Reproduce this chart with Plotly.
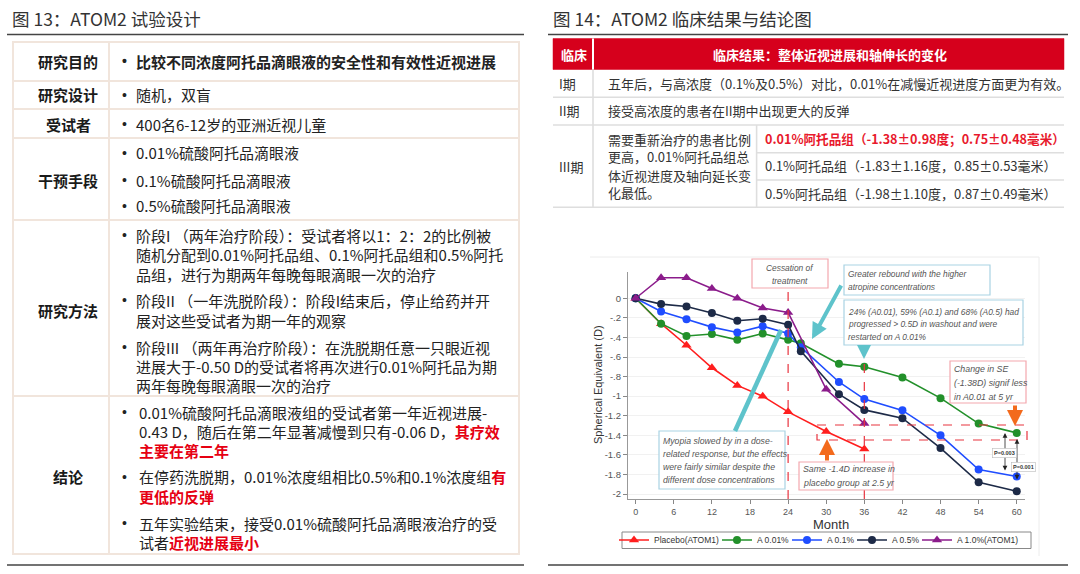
import plotly.graph_objects as go

W, H = 1080, 574
CJK = "Noto Sans CJK SC"
SANS = "Liberation Sans"

# ---- chart data: spherical equivalent (D) by month ----
months_atom1 = [0, 4, 8, 12, 16, 20, 24, 30, 36]
placebo_atom1 = [0, -0.26, -0.48, -0.71, -0.89, -1.00, -1.16, -1.36, -1.54]
a10_atom1 = [0, 0.21, 0.21, 0.10, 0.0, -0.10, -0.145, -0.93, -1.28]

months_atom2 = [0, 4, 8, 12, 16, 20, 24, 26, 32, 36, 42, 48, 54, 60]
a001 = [0, -0.26, -0.385, -0.365, -0.425, -0.36, -0.425, -0.46, -0.67, -0.70, -0.81, -1.02, -1.28, -1.375]
a01 = [0, -0.135, -0.215, -0.295, -0.35, -0.285, -0.36, -0.50, -0.855, -1.03, -1.145, -1.40, -1.75, -1.82]
a05 = [0, -0.06, -0.085, -0.15, -0.23, -0.21, -0.27, -0.54, -0.98, -1.14, -1.225, -1.53, -1.88, -1.97]

series_names = ["Placebo(ATOM1)", "A 0.01%", "A 0.1%", "A 0.5%", "A 1.0%(ATOM1)"]
x_ticks = [0, 6, 12, 18, 24, 30, 36, 42, 48, 54, 60]
y_ticks = [0, -0.2, -0.4, -0.6, -0.8, -1, -1.2, -1.4, -1.6, -1.8, -2]
y_tick_text = ["0", "-.2", "-.4", "-.6", "-.8", "-1", "-1.2", "-1.4", "-1.6", "-1.8", "-2"]
stop_month, restart_month = 24, 36

# ---- table texts ----
left_title = "图 13：ATOM2 试验设计"
right_title = "图 14：ATOM2 临床结果与结论图"
left_labels = ["研究目的", "研究设计", "受试者", "干预手段", "研究方法", "结论"]

RED = "#e60012"


def red(s):
    return f"<b><span style='color:{RED}'>{s}</span></b>"


left_lines = [
    # (bullet, text)
    (True, "<b>比较不同浓度阿托品滴眼液的安全性和有效性近视进展</b>"),
    (True, "随机，双盲"),
    (True, "400名6-12岁的亚洲近视儿童"),
    (True, "0.01%硫酸阿托品滴眼液"),
    (True, "0.1%硫酸阿托品滴眼液"),
    (True, "0.5%硫酸阿托品滴眼液"),
    (True, "阶段I （两年治疗阶段）：受试者将以1：2：2的比例被"),
    (False, "随机分配到0.01%阿托品组、0.1%阿托品组和0.5%阿托"),
    (False, "品组，进行为期两年每晚每眼滴眼一次的治疗"),
    (True, "阶段II （一年洗脱阶段）：阶段I结束后，停止给药并开"),
    (False, "展对这些受试者为期一年的观察"),
    (True, "阶段III （两年再治疗阶段）：在洗脱期任意一只眼近视"),
    (False, "进展大于-0.50 D的受试者将再次进行0.01%阿托品为期"),
    (False, "两年每晚每眼滴眼一次的治疗"),
    (True, "0.01%硫酸阿托品滴眼液组的受试者第一年近视进展-"),
    (False, "0.43 D，随后在第二年显著减慢到只有-0.06 D，" + red("其疗效")),
    (False, red("主要在第二年")),
    (True, "在停药洗脱期，0.01%浓度组相比0.5%和0.1%浓度组" + red("有")),
    (False, red("更低的反弹")),
    (True, "五年实验结束，接受0.01%硫酸阿托品滴眼液治疗的受"),
    (False, "试者" + red("近视进展最小")),
]

right_header = ["临床", "临床结果：整体近视进展和轴伸长的变化"]
right_labels = ["I期", "II期", "III期"]
right_rows = ["五年后，与高浓度（0.1%及0.5%）对比，0.01%在减慢近视进度方面更为有效。",
              "接受高浓度的患者在II期中出现更大的反弹"]
right_iii_left = ["需要重新治疗的患者比例", "更高，0.01%阿托品组总", "体近视进度及轴向延长变", "化最低。"]
right_iii_groups = ["0.01%阿托品组（-1.38±0.98度；0.75±0.48毫米）",
                    "0.1%阿托品组（-1.83±1.16度，0.85±0.53毫米）",
                    "0.5%阿托品组（-1.98±1.10度，0.87±0.49毫米）"]

fig = go.Figure()


def note(x, y, text, size, color="#222", family=CJK, xanchor="left", align="left", **kw):
    fig.add_annotation(x=x / W, y=1 - y / H, xref="paper", yref="paper", text=text,
                       showarrow=False, xanchor=xanchor, yanchor="middle", align=align,
                       font=dict(family=family, size=size, color=color), **kw)


def line(x0, y0, x1, y1, color, width=1.0, dash="solid"):
    fig.add_shape(type="line", xref="paper", yref="paper", x0=x0 / W, y0=1 - y0 / H,
                  x1=x1 / W, y1=1 - y1 / H, line=dict(color=color, width=width, dash=dash))


def box(x0, y0, x1, y1, color, width=1.0, fill="rgba(0,0,0,0)", dash="solid"):
    fig.add_shape(type="rect", xref="paper", yref="paper", x0=x0 / W, y0=1 - y0 / H,
                  x1=x1 / W, y1=1 - y1 / H, fillcolor=fill,
                  line=dict(color=color, width=width, dash=dash))


def arrow(xt, yt, xs, ys, color, width, size=1.0, head=2, side="end"):
    fig.add_annotation(x=xt / W, y=1 - yt / H, xref="paper", yref="paper", text="",
                       showarrow=True, ax=xs - xt, ay=ys - yt, axref="pixel", ayref="pixel",
                       arrowhead=head, arrowsize=size, arrowwidth=width, arrowcolor=color,
                       arrowside=side, startarrowhead=head, startarrowsize=size, standoff=0)


def callout(x, ys, lines, xanchor="left", size=8.4):
    for yy, t in zip(ys, lines):
        note(x, yy, f"<i>{t}</i>", size, "#555", SANS, xanchor=xanchor)


# ---------------- left table ----------------
note(10, 19, left_title, 17.5, color="#333")
line(7, 34.5, 524, 34.5, "#444", 1.6)
line(7, 565, 524, 565, "#444", 1.6)

BORDER = "#f1e5dc"
row_edges = [42, 81, 109, 138, 220, 396, 554]
box(13, row_edges[0], 519, row_edges[-1], BORDER, 2)
for ye in row_edges[1:-1]:
    line(13, ye, 519, ye, BORDER, 2)
line(109, row_edges[0], 109, row_edges[-1], BORDER, 2)

label_y = [61, 95, 124, 180, 310, 477]
for lab, yy in zip(left_labels, label_y):
    note(68, yy, f"<b>{lab}</b>", 15, color="#1a1a1a", xanchor="center")

line_y = [61, 95, 124, 153, 180, 206, 235, 254.5, 274, 300, 320, 347, 366, 385.5,
          412, 431, 450, 477, 496, 523, 542]
for i, ((bul, txt), yy) in enumerate(zip(left_lines, line_y)):
    tx = 137 if i >= 14 else 134
    if bul:
        note(120, yy, "<b>•</b>" if i == 0 else "•", 14, color="#222", family=SANS)
    note(tx, yy, txt, 15, color="#222")

# ---------------- right table ----------------
note(551, 19, right_title, 17.5, color="#333")
line(548, 34.5, 1068, 34.5, "#444", 1.6)
line(548, 565, 1068, 565, "#444", 1.6)

HDR = "#d6001c"
GRID = "#dedede"
box(553, 38.5, 1064, 69.5, HDR, 0.5, fill=HDR)
line(593, 38.5, 593, 69.5, "white", 2)
note(574, 54, f"<b>{right_header[0]}</b>", 13, color="white", xanchor="center")
note(830, 54, f"<b>{right_header[1]}</b>", 13, color="white", xanchor="center")

for ye in [97.3, 125, 207.3]:
    line(553, ye, 1064, ye, GRID, 1.6)
for ye in [152.7, 180]:
    line(756.6, ye, 1064, ye, GRID, 1.6)
line(593, 69.5, 593, 207.3, GRID, 1.6)
line(756.6, 125, 756.6, 207.3, GRID, 1.6)

for lab, yy in zip(right_labels, [83.3, 111, 166.7]):
    note(557, yy, lab, 13, color="#333")
for txt, yy in zip(right_rows, [83.3, 111]):
    note(606, yy, txt, 13, color="#333")
for txt, yy in zip(right_iii_left, [139.3, 157, 175, 192.7]):
    note(606, yy, txt, 13, color="#333")
for i, (txt, yy) in enumerate(zip(right_iii_groups, [138.3, 165.7, 193.3])):
    if i == 0:
        note(763, yy, f"<b>{txt}</b>", 12.6, color="#e8192c")
    else:
        note(763, yy, txt, 13, color="#333")

# ---------------- line chart ----------------
line(590, 257, 1039, 257, "#ececec", 1)
line(1039, 257, 1039, 556, "#ececec", 1)

colors = ["#ff1e1e", "#22902a", "#1f4dff", "#1d2a47", "#8b1c8b"]
xs = [months_atom1, months_atom2, months_atom2, months_atom2, months_atom1]
ys = [placebo_atom1, a001, a01, a05, a10_atom1]
symbols = ["triangle-up", "circle", "circle", "circle", "triangle-up"]
legend_ids = ["legend", "legend2", "legend3", "legend4", "legend5"]
for name, xv, yv, c, s, lg in zip(series_names, xs, ys, colors, symbols, legend_ids):
    fig.add_trace(go.Scatter(x=xv, y=yv, name=name, mode="lines+markers", legend=lg,
                             line=dict(color=c, width=1.6),
                             marker=dict(color=c, symbol=s, size=8 if s == "circle" else 9)))

x_px0, x_px1, y_px0, y_px1 = 628, 1025, 272, 499
fig.update_xaxes(domain=[x_px0 / W, x_px1 / W], range=[-1.21, 61.3],
                 tickvals=x_ticks, ticks="outside", ticklen=4, tickcolor="#888",
                 showline=True, linecolor="#999", linewidth=1.2, showgrid=False, zeroline=False,
                 tickfont=dict(family=SANS, size=9, color="#555"))
fig.update_yaxes(domain=[1 - y_px1 / H, 1 - y_px0 / H], range=[-2.05, 0.268],
                 tickvals=y_ticks, ticktext=y_tick_text, ticks="outside", ticklen=4,
                 tickcolor="#888", showline=True, linecolor="#999", linewidth=1.2,
                 showgrid=True, gridcolor="#f1f1f1", zeroline=False,
                 tickfont=dict(family=SANS, size=9.5, color="#555"))

note(831, 524, "Month", 13, color="#333", family=SANS, xanchor="center")
fig.add_annotation(x=598 / W, y=1 - 385 / H, xref="paper", yref="paper", showarrow=False,
                   text="Spherical Equivalent (D)", textangle=-90, xanchor="center",
                   yanchor="middle", font=dict(family=SANS, size=11, color="#333"))

# treatment cessation / restart markers
fig.add_shape(type="line", xref="x", yref="paper", x0=stop_month, x1=stop_month,
              y0=1 - 499 / H, y1=1 - 288 / H, line=dict(color="#e8343f", width=1.2, dash="dash"))
fig.add_shape(type="line", xref="x", yref="paper", x0=restart_month, x1=restart_month,
              y0=1 - 499 / H, y1=1 - 357 / H, line=dict(color="#e8343f", width=1.2, dash="dash"))
box(817, 425, 1027, 440, "#e8343f", 1.2, dash="dash")

PINK = "#f3a7ae"
TEAL_B = "#a9d3e3"
box(752, 259, 828, 288, PINK, 1.2, fill="white")
callout(790, [268.3, 281], ["Cessation of", "treatment"], xanchor="center")
box(844, 265, 990, 295, TEAL_B, 1.2, fill="white")
callout(846, [274, 286.7], ["Greater rebound with the higher", "atropine concentrations"])
box(844, 300, 1023, 345, TEAL_B, 1.2, fill="white")
callout(846, [311.7, 324, 337.3], ["24% (A0.01), 59% (A0.1) and 68% (A0.5) had",
                                   "progressed &gt; 0.5D in washout and were",
                                   "restarted on A 0.01%"])
box(950, 361, 1026, 403, PINK, 1.2, fill="white")
callout(952, [369, 383, 396.7], ["Change in SE", "(-1.38D) signif less", "in A0.01 at 5 yr"], size=8.8)
box(659, 431, 785, 489, TEAL_B, 1.2, fill="white")
callout(661, [441, 454, 466.7, 480], ["Myopia slowed by in a dose-", "related response, but the effects",
                                      "were fairly similar despite the", "different dose concentrations"],
        size=8.7)
box(799, 462, 893, 490, PINK, 1.2, fill="white")
callout(801, [469.3, 482.7], ["Same -1.4D increase in", "placebo group at 2.5 yr"], size=8.8)

TEAL = "#5ec3cb"
ORANGE = "#f36a1c"
line(735, 431, 781, 330, TEAL, 4.5)
arrow(812, 339, 842, 284, TEAL, 4, size=0.8)
arrow(864, 359, 864, 345, TEAL, 3.5, size=0.8)
arrow(1015, 426, 1015, 404, ORANGE, 4, size=0.8)
arrow(827, 439, 827, 462, ORANGE, 4, size=0.8)
arrow(1005, 433, 1005, 472, "#222", 0.8, size=1.2, side="end+start")
arrow(1017, 439, 1017, 481, "#222", 0.8, size=1.2, side="end+start")
note(1004.5, 453, "<b>P=0.003</b>", 5.5, "#333", SANS, xanchor="center",
     bgcolor="white", bordercolor="#bbb", borderwidth=0.6, borderpad=1.5)
note(1023, 467, "<b>P=0.001</b>", 5.5, "#333", SANS, xanchor="center",
     bgcolor="white", bordercolor="#bbb", borderwidth=0.6, borderpad=1.5)

# legend: one frame, one legend per series so entries sit side by side within it
LEG_FONT = 8.5
legend_symbol_x = [627, 730, 800, 865, 930]
box(622, 532, 1031, 548.5, "#888", 1, fill="white")
legend_common = dict(orientation="h", xanchor="left", yanchor="middle", y=1 - 540 / H,
                     bgcolor="rgba(0,0,0,0)", borderwidth=0, itemwidth=30,
                     font=dict(family=SANS, size=LEG_FONT, color="#333"))
legends = {lg: dict(legend_common, x=(sx - 13) / W) for lg, sx in zip(legend_ids, legend_symbol_x)}

fig.update_layout(
    width=W, height=H, margin=dict(l=0, r=0, t=0, b=0, autoexpand=False),
    paper_bgcolor="white", plot_bgcolor="white", showlegend=True,
    **legends,
)

fig.write_html("out.html", config={"displayModeBar": False},
               post_script="document.body.style.margin='0px';")
